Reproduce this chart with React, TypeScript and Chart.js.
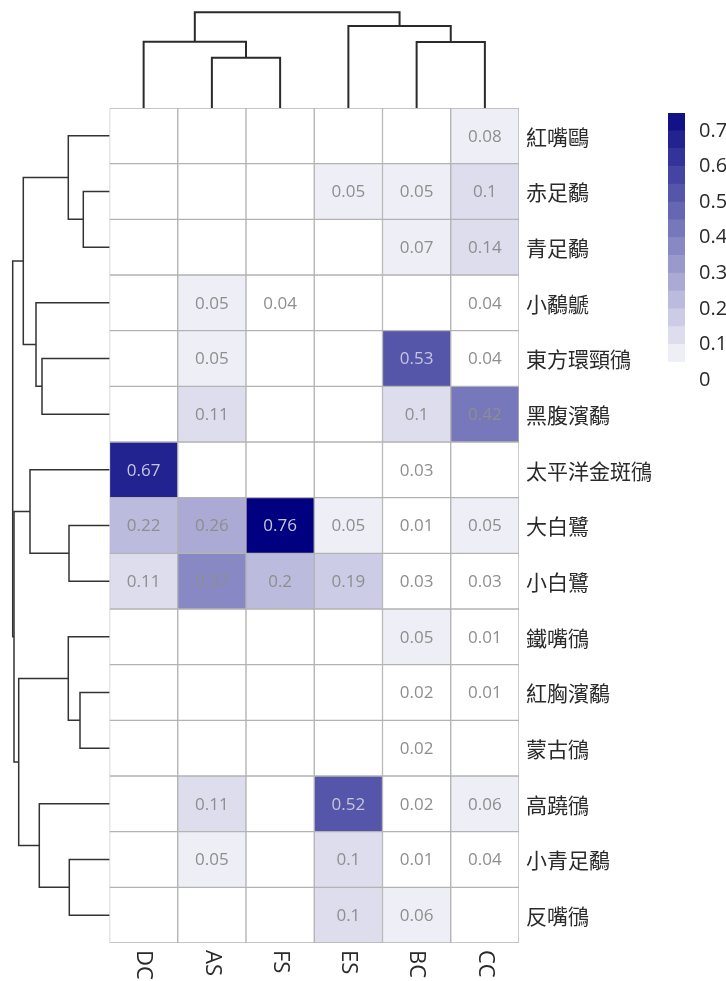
import React, { useEffect, useRef } from "react";
import { Chart, registerables } from "chart.js";

Chart.register(...registerables);

// ---------------- data ----------------
const columns = ["DC", "AS", "FS", "ES", "BC", "CC"];
const rows = [
  "紅嘴鷗", "赤足鷸", "青足鷸", "小鷸鷈", "東方環頸鴴",
  "黑腹濱鷸", "太平洋金斑鴴", "大白鷺", "小白鷺", "鐵嘴鴴",
  "紅胸濱鷸", "蒙古鴴", "高蹺鴴", "小青足鷸", "反嘴鴴",
];
// values per row, in the column order DC, AS, FS, ES, BC, CC (null = empty)
const vRedBilledGull = [null, null, null, null, null, 0.08];
const vRedshank = [null, null, null, 0.05, 0.05, 0.1];
const vGreenshank = [null, null, null, null, 0.07, 0.14];
const vLittleGrebe = [null, 0.05, 0.04, null, null, 0.04];
const vKentishPlover = [null, 0.05, null, null, 0.53, 0.04];
const vDunlin = [null, 0.11, null, null, 0.1, 0.42];
const vPacificGoldenPlover = [0.67, null, null, null, 0.03, null];
const vGreatEgret = [0.22, 0.26, 0.76, 0.05, 0.01, 0.05];
const vLittleEgret = [0.11, 0.37, 0.2, 0.19, 0.03, 0.03];
const vGreaterSandPlover = [null, null, null, null, 0.05, 0.01];
const vRedNeckedStint = [null, null, null, null, 0.02, 0.01];
const vLesserSandPlover = [null, null, null, null, 0.02, null];
const vBlackWingedStilt = [null, 0.11, null, 0.52, 0.02, 0.06];
const vMarshSandpiper = [null, 0.05, null, 0.1, 0.01, 0.04];
const vAvocet = [null, null, null, 0.1, 0.06, null];
const values: (number | null)[][] = [
  vRedBilledGull, vRedshank, vGreenshank, vLittleGrebe, vKentishPlover,
  vDunlin, vPacificGoldenPlover, vGreatEgret, vLittleEgret, vGreaterSandPlover,
  vRedNeckedStint, vLesserSandPlover, vBlackWingedStilt, vMarshSandpiper, vAvocet,
];

// dendrogram linkages: [childA, childB, height]; new clusters numbered from leaf count
const colLinks: [number, number, number][] = [
  [1, 2, 0.503],
  [0, 6, 0.663],
  [4, 5, 0.66],
  [3, 8, 0.82],
  [7, 9, 0.957],
];
const rowLinks: [number, number, number][] = [
  [1, 2, 0.262],
  [0, 15, 0.412],
  [4, 5, 0.675],
  [3, 17, 0.735],
  [16, 18, 0.862],
  [7, 8, 0.405],
  [6, 20, 0.795],
  [10, 11, 0.295],
  [9, 22, 0.412],
  [13, 14, 0.402],
  [12, 24, 0.702],
  [23, 25, 0.908],
  [21, 26, 0.955],
  [19, 27, 0.968],
];

const legendTicks = [0, 0.1, 0.2, 0.3, 0.4, 0.5, 0.6, 0.7];
const binSize = 0.05;
const binCount = 15;

// ---------------- layout / style ----------------
const W = 726;
const H = 981;
const GRID = { left: 109.5, top: 108, right: 519, bottom: 943 };
const CB = { left: 668, right: 685, top: 113, bottom: 380 };
const LATIN = '"Open Sans", "Noto Sans CJK TC", sans-serif';
const CJK = '"Noto Sans CJK TC", "Open Sans", sans-serif';

function binColor(k: number): string {
  const t = Math.max(0, Math.min(binCount, k)) / binCount;
  const r = Math.round(255 * (1 - t));
  const b = Math.round(255 * (1 - t) + 128 * t);
  return `rgb(${r},${r},${b})`;
}
function valueColor(v: number | null): string {
  if (v == null) return "#ffffff";
  return binColor(Math.floor(v / binSize + 1e-9));
}

function dendroSegments(links: [number, number, number][], n: number) {
  const pos: number[] = [];
  const ht: number[] = [];
  for (let i = 0; i < n; i++) {
    pos[i] = i + 0.5;
    ht[i] = 0;
  }
  const segs: [number, number][][] = [];
  links.forEach(([a, b, h], k) => {
    segs.push([
      [pos[a], ht[a]],
      [pos[a], h],
      [pos[b], h],
      [pos[b], ht[b]],
    ]);
    pos[n + k] = (pos[a] + pos[b]) / 2;
    ht[n + k] = h;
  });
  return segs;
}

const heatLabels = {
  id: "heatLabels",
  afterDatasetsDraw(chart: any) {
    const { ctx, chartArea } = chart;
    const x = chart.scales.x;
    const y = chart.scales.y;
    ctx.save();
    ctx.textAlign = "center";
    ctx.textBaseline = "middle";
    ctx.font = `17px ${LATIN}`;
    values.forEach((row, i) =>
      row.forEach((v, j) => {
        if (v == null) return;
        ctx.fillStyle = v >= 0.5 ? "#c6c6dc" : "#8e8e8e";
        ctx.fillText(String(v), x.getPixelForValue(j), y.getPixelForValue(i + 0.5) + 1);
      })
    );
    ctx.textAlign = "left";
    ctx.fillStyle = "#2a2a2a";
    ctx.font = `21px ${CJK}`;
    rows.forEach((r, i) => {
      ctx.fillText(r, chartArea.right + 7, y.getPixelForValue(i + 0.5) + 1);
    });
    ctx.font = `22px ${LATIN}`;
    columns.forEach((c, j) => {
      ctx.save();
      ctx.translate(x.getPixelForValue(j), chartArea.bottom + 7);
      ctx.rotate(Math.PI / 2);
      ctx.textAlign = "left";
      ctx.textBaseline = "middle";
      ctx.fillText(c, 0, 0);
      ctx.restore();
    });
    ctx.restore();
  },
};

export default function App() {
  const heatRef = useRef<HTMLCanvasElement>(null);
  const topRef = useRef<HTMLCanvasElement>(null);
  const leftRef = useRef<HTMLCanvasElement>(null);
  const cbRef = useRef<HTMLCanvasElement>(null);

  useEffect(() => {
    const charts: Chart[] = [];
    const common = {
      responsive: false,
      animation: false as const,
      events: [] as any[],
      plugins: { legend: { display: false }, tooltip: { enabled: false } },
    };

    // heatmap
    charts.push(
      new Chart(heatRef.current!, {
        type: "bar",
        data: {
          labels: columns,
          datasets: rows.map((r, i) => ({
            label: r,
            data: columns.map(() => [i, i + 1]) as any,
            backgroundColor: values[i].map(valueColor),
            borderColor: "#b3b3b3",
            borderWidth: 1,
            borderSkipped: false,
            grouped: false,
            barPercentage: 1,
            categoryPercentage: 1,
          })),
        },
        options: {
          ...common,
          layout: {
            padding: {
              left: GRID.left,
              top: GRID.top,
              right: W - GRID.right,
              bottom: H - GRID.bottom,
            },
          },
          scales: {
            x: { type: "category", display: false },
            y: { type: "linear", min: 0, max: rows.length, reverse: true, display: false },
          },
        } as any,
        plugins: [heatLabels],
      })
    );

    // top (column) dendrogram
    const colSegs = dendroSegments(colLinks, columns.length);
    charts.push(
      new Chart(topRef.current!, {
        type: "scatter",
        data: {
          datasets: colSegs.map((s) => ({
            data: s.map(([p, h]) => ({ x: p, y: h })),
            showLine: true,
            borderColor: "#2b2b2b",
            borderWidth: 2,
            pointRadius: 0,
            tension: 0,
            clip: false,
          })),
        },
        options: {
          ...common,
          layout: {
            padding: { left: GRID.left, right: W - GRID.right, top: 0, bottom: H - GRID.top },
          },
          scales: {
            x: { type: "linear", min: 0, max: columns.length, display: false },
            y: { type: "linear", min: 0, max: 1.08, display: false },
          },
        } as any,
      })
    );

    // left (row) dendrogram
    const rowSegs = dendroSegments(rowLinks, rows.length);
    charts.push(
      new Chart(leftRef.current!, {
        type: "scatter",
        data: {
          datasets: rowSegs.map((s) => ({
            data: s.map(([p, h]) => ({ x: h, y: p })),
            showLine: true,
            borderColor: "#333333",
            borderWidth: 1.5,
            pointRadius: 0,
            tension: 0,
            clip: false,
          })),
        },
        options: {
          ...common,
          layout: {
            padding: { left: 0, right: W - GRID.left, top: GRID.top, bottom: H - GRID.bottom },
          },
          scales: {
            x: { type: "linear", min: 0, max: 1.095, reverse: true, display: false },
            y: { type: "linear", min: 0, max: rows.length, reverse: true, display: false },
          },
        } as any,
      })
    );

    // colour bar
    const bins = Array.from({ length: binCount }, (_, k) => k);
    charts.push(
      new Chart(cbRef.current!, {
        type: "bar",
        data: {
          labels: [""],
          datasets: bins.map((k) => ({
            data: [[k * binSize, (k + 1) * binSize]] as any,
            backgroundColor: binColor(k),
            borderWidth: 0,
            grouped: false,
            barPercentage: 1,
            categoryPercentage: 1,
          })),
        },
        options: {
          ...common,
          layout: {
            padding: { left: CB.left, right: 0, top: CB.top, bottom: H - CB.bottom },
          },
          scales: {
            x: { type: "category", display: false },
            y: {
              type: "linear",
              position: "right",
              min: 0,
              max: binCount * binSize,
              grid: { display: false },
              border: { display: false },
              afterBuildTicks: (s: any) => {
                s.ticks = legendTicks.map((v) => ({ value: v }));
              },
              afterFit: (s: any) => {
                s.width = W - CB.right;
              },
              ticks: {
                padding: 6,
                color: "#2a2a2a",
                font: { family: LATIN, size: 20 },
                callback: (v: any) => String(v),
              },
            },
          },
        } as any,
      })
    );

    return () => charts.forEach((c) => c.destroy());
  }, []);

  const cs: React.CSSProperties = { position: "absolute", left: 0, top: 0 };
  return (
    <div style={{ position: "absolute", left: 0, top: 0, width: W, height: H, background: "#fff" }}>
      <canvas ref={topRef} width={W} height={H} style={cs} />
      <canvas ref={leftRef} width={W} height={H} style={cs} />
      <canvas ref={cbRef} width={W} height={H} style={cs} />
      <canvas ref={heatRef} width={W} height={H} style={cs} />
    </div>
  );
}
